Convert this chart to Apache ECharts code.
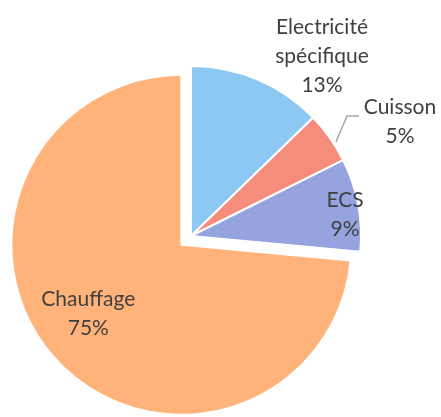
<!DOCTYPE html>
<html>
<head>
<meta charset="utf-8">
<script src="https://cdn.jsdelivr.net/npm/echarts@6/dist/echarts.min.js"></script>
<style>
  html, body { margin: 0; padding: 0; background: #fff; }
  #chart { width: 441px; height: 417px; }
</style>
</head>
<body>
<div id="chart"></div>
<script>
// consommation par usage (%)
const categories = ['Electricité spécifique', 'Cuisson', 'ECS', 'Chauffage']
const values = [13, 5, 9, 75]
const colors = ['#8dc8f3', '#f58c7c', '#95a4de', '#ffb27a']

// label anchor points (px) and the Cuisson leader line
const labelPos = [[322, 56], [400, 122], [345, 215]]
const cuissonLine = [[336, 142], [347, 116], [359, 116]]
// Chauffage is the exploded slice: its label is nudged from the inside spot
const chauffageOffset = [-28, 10]

const chart = echarts.init(document.getElementById('chart'))

chart.setOption({
  backgroundColor: '#fff',
  animation: false,
  series: [{
    type: 'pie',
    center: [191, 236],
    radius: 170,
    startAngle: 90,
    clockwise: true,
    selectedMode: 'multiple',
    selectedOffset: 13,
    avoidLabelOverlap: false,
    itemStyle: { borderColor: '#fff', borderWidth: 2 },
    label: {
      show: true,
      position: 'inside',
      overflow: 'none',
      color: '#404040',
      fontFamily: 'Lato',
      fontSize: 21,
      lineHeight: 29,
      align: 'center',
      formatter: p => p.name.replace(' ', '\n') + '\n' + p.value + '%'
    },
    labelLine: { show: false, lineStyle: { color: '#a6a6a6', width: 1.5 } },
    labelLayout: params => {
      const i = params.dataIndex
      if (!labelPos[i]) return {}
      const out = { x: labelPos[i][0], y: labelPos[i][1], align: 'center', verticalAlign: 'middle', hideOverlap: false }
      if (i === 1) out.labelLinePoints = cuissonLine
      return out
    },
    emphasis: { disabled: true },
    data: categories.map((name, i) => {
      const item = {
        name,
        value: values[i],
        selected: name === 'Chauffage',
        itemStyle: { color: colors[i] }
      }
      if (name === 'Cuisson') {
        item.label = { position: 'outside', alignTo: 'none' }
        item.labelLine = { show: true }
      }
      if (name === 'Chauffage') {
        item.label = { offset: chauffageOffset }
        item.select = { label: { offset: chauffageOffset } }
      }
      return item
    })
  }]
})
</script>
</body>
</html>
